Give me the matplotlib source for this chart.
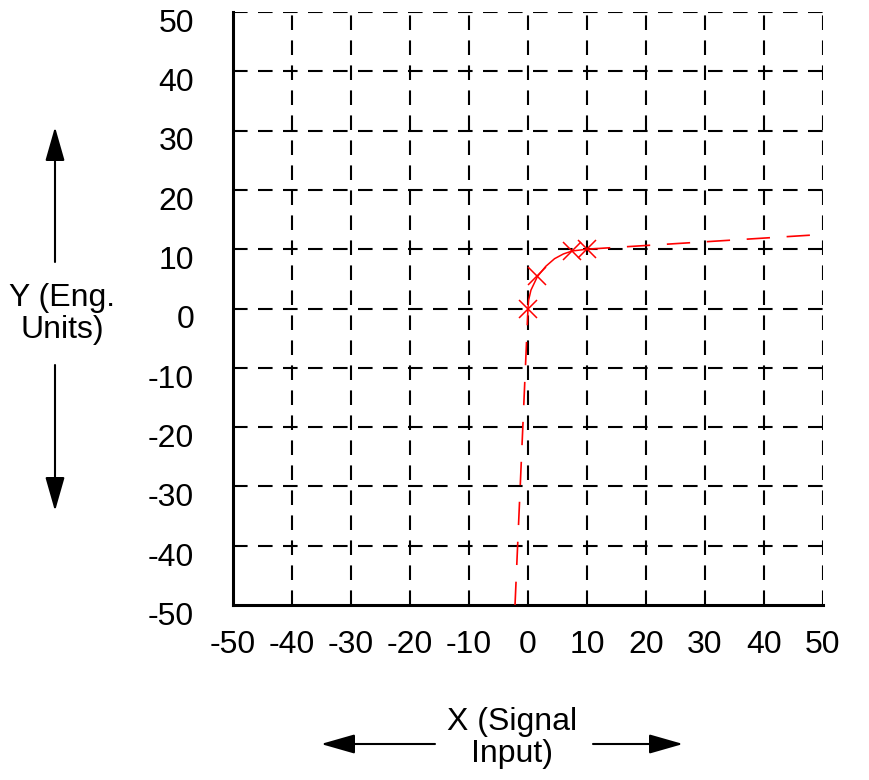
import matplotlib
matplotlib.use("Agg")
import matplotlib.pyplot as plt
from matplotlib.transforms import ScaledTranslation

plt.rcParams['font.family'] = ['Liberation Sans', 'DejaVu Sans']

# ---- data ----
x_ticks = [-50, -40, -30, -20, -10, 0, 10, 20, 30, 40, 50]
y_ticks = [-50, -40, -30, -20, -10, 0, 10, 20, 30, 40, 50]
x_tick_labels = ["-50", "-40", "-30", "-20", "-10", "0", "10", "20", "30", "40", "50"]
y_tick_labels = ["-50", "-40", "-30", "-20", "-10", "0", "10", "20", "30", "40", "50"]

low_x = [-2.2, 0.0]
low_y = [-50.0, 0.0]
arc_x = [0.0, 0.1, 0.5, 1.6, 3.0, 4.5, 6.0, 7.5, 10.0]
arc_y = [0.0, 1.4, 3.1, 5.4, 7.1, 8.4, 9.2, 9.7, 10.0]
high_x = [10.0, 50.0]
high_y = [10.0, 12.5]
mark_x = [0.0, 1.6, 7.5, 10.0]
mark_y = [0.0, 5.4, 9.7, 10.0]

FS = 23

fig = plt.figure(figsize=(8.7, 7.8), dpi=100)
ax = fig.add_axes([233/870, 1-605/780, (823-233)/870, (605-12)/780])
ax.set_xlim(-50, 50)
ax.set_ylim(-50, 50)

# grid lines
for v in x_ticks[1:]:
    ax.axvline(v, color='black', lw=1.5, dashes=(7, 5), zorder=1)
for v in y_ticks[1:]:
    ax.axhline(v, color='black', lw=1.5, dashes=(7, 5), zorder=1)

for s in ['top', 'right']:
    ax.spines[s].set_visible(False)
ax.spines['left'].set_linewidth(2.2)
ax.spines['bottom'].set_linewidth(2.2)

ax.set_xticks(x_ticks)
ax.set_xticklabels(x_tick_labels, fontsize=FS)
ax.set_yticks(y_ticks)
ax.set_yticklabels(y_tick_labels, fontsize=FS)
ax.tick_params(axis='x', length=0, pad=18)
ax.tick_params(axis='y', length=0, pad=28)
off = ScaledTranslation(0, -6/72, fig.dpi_scale_trans)
for lab in ax.get_yticklabels():
    lab.set_transform(lab.get_transform() + off)

# curve
ax.plot(low_x, low_y, color='red', lw=1.2, dashes=(14, 10), zorder=3)
ax.plot(arc_x, arc_y, color='red', lw=1.1, zorder=3)
ax.plot(high_x, high_y, color='red', lw=1.2, dashes=(14, 10), zorder=3)
ax.plot(mark_x, mark_y, linestyle='none', marker='x', color='red',
        markersize=13, markeredgewidth=1.1, zorder=4)

# axis labels and arrows
fig.text(62/870, 1-314/780, "Y (Eng.\nUnits)", fontsize=FS, ha='center', va='center',
         linespacing=1.1)
fig.text(512/870, 1-738/780, "X (Signal\nInput)", fontsize=FS, ha='center', va='center',
         linespacing=1.1)

arrow_kw = dict(arrowstyle='-|>,head_length=1.05,head_width=0.3', color='black', lw=1.5)
def farrow(x0, y0, x1, y1):
    fig.add_artist(matplotlib.patches.FancyArrowPatch(
        (x0/870, 1-y0/780), (x1/870, 1-y1/780), transform=fig.transFigure,
        mutation_scale=20, shrinkA=0, shrinkB=0, **arrow_kw))

farrow(55, 262, 55, 127)
farrow(55, 365, 55, 511)
farrow(435, 744, 321, 744)
farrow(593, 744, 683, 744)

fig.savefig("out.png", dpi=100)
